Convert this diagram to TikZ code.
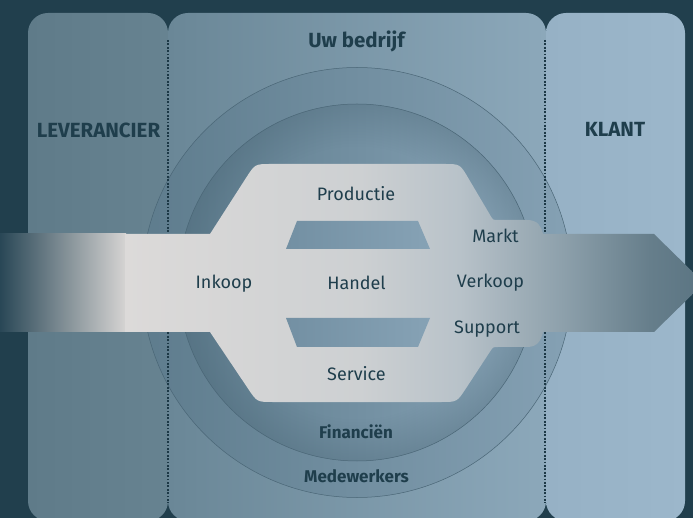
\documentclass[tikz,border=0pt]{standalone}
\usepackage{fontspec}
\setmainfont{Fira Sans}
\usetikzlibrary{fadings}
\definecolor{bg}{HTML}{213F4D}
\definecolor{dots}{HTML}{1C3846}
\definecolor{txt}{HTML}{1F3E4C}
\definecolor{leftL}{HTML}{5F7B89}
\definecolor{leftR}{HTML}{678391}
\definecolor{midL}{HTML}{6A8797}
\definecolor{midR}{HTML}{8CA8BA}
\definecolor{rightL}{HTML}{96B1C5}
\definecolor{rightR}{HTML}{9CB7CB}
\definecolor{ringL}{HTML}{5E7C8D}
\definecolor{ringR}{HTML}{85A1B4}
\definecolor{discL}{HTML}{5D7B8C}
\definecolor{discR}{HTML}{88A4B7}
\definecolor{ringline}{HTML}{4A6676}
\definecolor{trapL}{HTML}{7390A3}
\definecolor{trapR}{HTML}{86A2B5}
\definecolor{tailL}{HTML}{294756}
\definecolor{tailR}{HTML}{D6D4D3}
\definecolor{aA}{HTML}{DCDAD9}
\definecolor{aB}{HTML}{CDD0D2}
\definecolor{aC}{HTML}{B8C2C9}
\definecolor{aD}{HTML}{8EA1AC}
\definecolor{aE}{HTML}{667E8B}
\definecolor{aF}{HTML}{5A7482}
\pgfdeclarehorizontalshading{arrowshade}{100bp}{color(0bp)=(aA); color(25bp)=(aA); color(45.3bp)=(aB); color(53.9bp)=(aC); color(62.6bp)=(aD); color(70.3bp)=(aE); color(75bp)=(aF); color(100bp)=(aF)}
\pgfdeclareradialshading{edgesh}{\pgfpoint{0bp}{0bp}}{color(0bp)=(black); color(19bp)=(black); color(25bp)=(black!65); color(50bp)=(black!65)}
\pgfdeclarefading{edgefade}{\pgfuseshading{edgesh}}
\begin{document}
\begin{tikzpicture}[x=1pt,y=-1pt,
  panel/.style={rounded corners=20pt},
  sep/.style={draw=dots, line width=2pt, dash pattern=on 1.8pt off 1.6pt},
  ring/.style={draw=ringline, line width=0.5pt},
  trap/.style={left color=trapL, right color=trapR},
  lbl/.style={text=txt, font=\fontsize{18}{20}\selectfont, anchor=base, inner sep=0pt},
  bigb/.style={text=txt, font=\bfseries\fontsize{20.5}{23}\selectfont, anchor=base, inner sep=0pt},
  smb/.style={text=txt, font=\bfseries\fontsize{17}{19}\selectfont, anchor=base, inner sep=0pt}]
\useasboundingbox (0,0) rectangle (693,518);
\fill[bg] (0,0) rectangle (693,518);
% panels
\shade[panel, left color=leftL, right color=leftR] (28,13) rectangle (168,521);
\shade[panel, left color=midL, right color=midR] (168,13) rectangle (546,521);
\shade[panel, left color=rightL, right color=rightR] (546,13) rectangle (685,521);
% circles
\shade[left color=ringL, right color=ringR] (357,282.5) circle[radius=215pt];
\draw[ring] (357,282.5) circle[radius=215pt];
\shade[left color=discL, right color=discR] (357,282.5) circle[radius=178.5pt];
\fill[ringline, path fading=edgefade] (357,282.5) circle[radius=178.5pt];
\draw[ring] (357,282.5) circle[radius=178.5pt];
% separators
\coordinate (s1t) at (168,40); \coordinate (s1b) at (168,503);
\coordinate (s2t) at (545,40); \coordinate (s2b) at (545,503);
\draw[sep] (s1t) -- (s1b);
\draw[sep] (s2t) -- (s2b);
% tail of arrow
\shade[left color=tailL, right color=tailR] (0,234) rectangle (126,332);
% main light shape with arrow
\shade[shading=arrowshade]
  (125,234) -- (210,234) -- (246.3,177.5) .. controls (255,164) .. (271,164)
  -- (444,164) .. controls (460,164) .. (468.1,177.8)
  -- (490.5,215.7) .. controls (493,220) .. (498,220)
  -- (527,220) .. controls (538,220) and (541,226) .. (543,234)
  -- (654,234) -- (704,283) -- (654,332)
  -- (543,332) .. controls (541,340) and (538,347) .. (527,347)
  -- (498,347) .. controls (493,347) .. (490.3,351.2)
  -- (465.8,388.6) .. controls (457,402) .. (441,402)
  -- (273,402) .. controls (257,402) .. (248.1,388.7)
  -- (210,332) -- (125,332) -- cycle;
% trapezoids
\shade[trap] (297,221) -- (418,221) -- (430,249) -- (286,249) -- cycle;
\shade[trap] (286,318) -- (430,318) -- (418,347) -- (297,347) -- cycle;
% labels
\node[bigb] (uw) at (356.5,48) {Uw bedrijf};
\node[bigb] (lev) at (98.5,138) {LEVERANCIER};
\node[bigb] (kl) at (615,137) {KLANT};
\node[lbl] (prod) at (356,201) {Productie};
\node[lbl] (markt) at (495.5,243) {Markt};
\node[lbl] (ink) at (224,289) {Inkoop};
\node[lbl] (han) at (356.5,290) {Handel};
\node[lbl] (verk) at (490.5,288) {Verkoop};
\node[lbl] (sup) at (487,334) {Support};
\node[lbl] (serv) at (356.5,381) {Service};
\node[smb] (fin) at (356,438) {Financiën};
\node[smb] (med) at (356.5,482) {Medewerkers};
\end{tikzpicture}
\end{document}
